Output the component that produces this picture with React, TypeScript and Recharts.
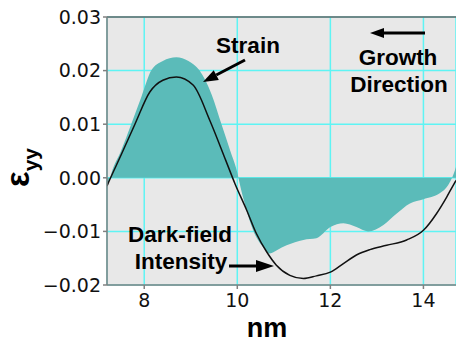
import {
  Area,
  CartesianGrid,
  ComposedChart,
  Line,
  ReferenceLine,
  XAxis,
  YAxis,
} from "recharts";

// strain profile (filled)
const strainNm = [
  7.2, 7.25, 7.3, 7.5, 7.72, 7.94, 8.15, 8.4, 8.69, 8.95, 9.19, 9.45, 9.66,
  9.85, 10.0, 10.05, 10.16, 10.34, 10.55, 10.7, 10.85, 11.06, 11.42, 11.7,
  12.0, 12.28, 12.56, 12.81, 13.14, 13.42, 13.71, 14.0, 14.35, 14.53, 14.64,
  14.7,
];
const strainValues = [
  -0.002, -0.0005, 0.001, 0.005, 0.01, 0.0151, 0.02, 0.0218, 0.0225, 0.0218,
  0.02, 0.0155, 0.01, 0.005, 0.001, -0.001, -0.0048, -0.0098, -0.0129,
  -0.0141, -0.0135, -0.0126, -0.0116, -0.0113, -0.0092, -0.0085, -0.0092,
  -0.01, -0.0088, -0.0067, -0.0048, -0.004, -0.0029, -0.0014, 0.0005, 0.002,
];

// dark-field intensity (black line)
const intensityNm = [
  7.2, 7.22, 7.5, 7.8, 8.12, 8.4, 8.69, 9.05, 9.41, 9.75, 9.95, 10.2, 10.41,
  10.63, 10.84, 11.13, 11.42, 11.7, 12.0, 12.28, 12.56, 12.85, 13.21, 13.64,
  14.0, 14.28, 14.5, 14.64, 14.7,
];
const intensityValues = [
  -0.0015, -0.0011, 0.0042, 0.01, 0.016, 0.0182, 0.0188, 0.0173, 0.0107,
  0.0033, -0.0011, -0.006, -0.0104, -0.0138, -0.0163, -0.0182, -0.0188,
  -0.0183, -0.0176, -0.016, -0.0144, -0.0134, -0.0126, -0.0116, -0.0098,
  -0.0067, -0.0036, -0.0014, -0.0005,
];

const xTicks = [8, 10, 12, 14];
const yTicks = [-0.02, -0.01, 0, 0.01, 0.02, 0.03];

const strainData = strainNm.map((nm, i) => ({ nm, strain: strainValues[i] }));
const intensityData = intensityNm.map((nm, i) => ({
  nm,
  intensity: intensityValues[i],
}));

const tickStyle = {
  fill: "#111",
  fontSize: 19,
  fontFamily: "DejaVu Sans",
};

const labelFont = "Liberation Sans, Arial, sans-serif";

function Arrow({
  x1,
  y1,
  x2,
  y2,
  head = 15,
  half = 5.5,
}: {
  x1: number;
  y1: number;
  x2: number;
  y2: number;
  head?: number;
  half?: number;
}) {
  const dx = x2 - x1;
  const dy = y2 - y1;
  const len = Math.sqrt(dx * dx + dy * dy);
  const ux = dx / len;
  const uy = dy / len;
  const bx = x2 - ux * head;
  const by = y2 - uy * head;
  const pts = [
    `${x2},${y2}`,
    `${bx - uy * half},${by + ux * half}`,
    `${bx + uy * half},${by - ux * half}`,
  ].join(" ");
  return (
    <g>
      <line x1={x1} y1={y1} x2={bx} y2={by} stroke="#000" strokeWidth={3} />
      <polygon points={pts} fill="#000" />
    </g>
  );
}

const fmt = (v: number) =>
  v < 0 ? `\u2212${Math.abs(v).toFixed(2)}` : v.toFixed(2);

export default function App() {
  return (
    <div style={{ position: "absolute", left: 0, top: 0, width: 456, height: 344 }}>
      <ComposedChart
        width={456}
        height={344}
        margin={{ top: 17, right: 0, bottom: 0, left: 0 }}
      >
        <CartesianGrid
          fill="#e8e8e8"
          stroke="#5ef4f4"
          strokeWidth={1.5}
        />
        <XAxis
          type="number"
          dataKey="nm"
          domain={[7.2, 14.7]}
          ticks={xTicks}
          allowDataOverflow
          height={59}
          stroke="#808080"
          strokeWidth={1.5}
          tickSize={4}
          tickMargin={5}
          tick={tickStyle}
        />
        <YAxis
          type="number"
          domain={[-0.02, 0.03]}
          ticks={yTicks}
          allowDataOverflow
          width={107}
          stroke="#808080"
          strokeWidth={1.5}
          tickSize={4}
          tickMargin={2}
          tick={tickStyle}
          tickFormatter={fmt}
        />
        <Area
          data={strainData}
          dataKey="strain"
          type="monotone"
          baseValue={0}
          stroke="none"
          fill="#5bbbb9"
          fillOpacity={1}
          dot={false}
          activeDot={false}
          isAnimationActive={false}
        />
        <Line
          data={intensityData}
          dataKey="intensity"
          type="monotone"
          stroke="#111"
          strokeWidth={1.5}
          dot={false}
          activeDot={false}
          isAnimationActive={false}
        />
        <ReferenceLine y={0.03} stroke="#666" strokeWidth={1.5} />
      </ComposedChart>

      <svg
        width={456}
        height={344}
        style={{ position: "absolute", left: 0, top: 0, pointerEvents: "none" }}
      >
        <g fontFamily={labelFont} fontWeight="bold" fontSize={22.5} fill="#000">
          <text x={248} y={53} textAnchor="middle">Strain</text>
          <text x={398} y={65} textAnchor="middle">Growth</text>
          <text x={399} y={92} textAnchor="middle">Direction</text>
          <text x={180} y={242} textAnchor="middle">Dark-field</text>
          <text x={181} y={269} textAnchor="middle">Intensity</text>
        </g>
        <Arrow x1={245} y1={60} x2={203} y2={82} />
        <Arrow x1={425} y1={33} x2={370} y2={33} head={14} half={5} />
        <Arrow x1={229} y1={266} x2={274} y2={266} head={18} half={6} />

        <text
          fontFamily={labelFont}
          fontWeight="bold"
          fontSize={33}
          fill="#000"
          transform="translate(29,187) rotate(-90)"
        >
          ε
          <tspan fontSize={21} dy={9}>yy</tspan>
        </text>
        <text
          x={267}
          y={337}
          textAnchor="middle"
          fontFamily={labelFont}
          fontWeight="bold"
          fontSize={27}
          fill="#000"
        >
          nm
        </text>
      </svg>
    </div>
  );
}
